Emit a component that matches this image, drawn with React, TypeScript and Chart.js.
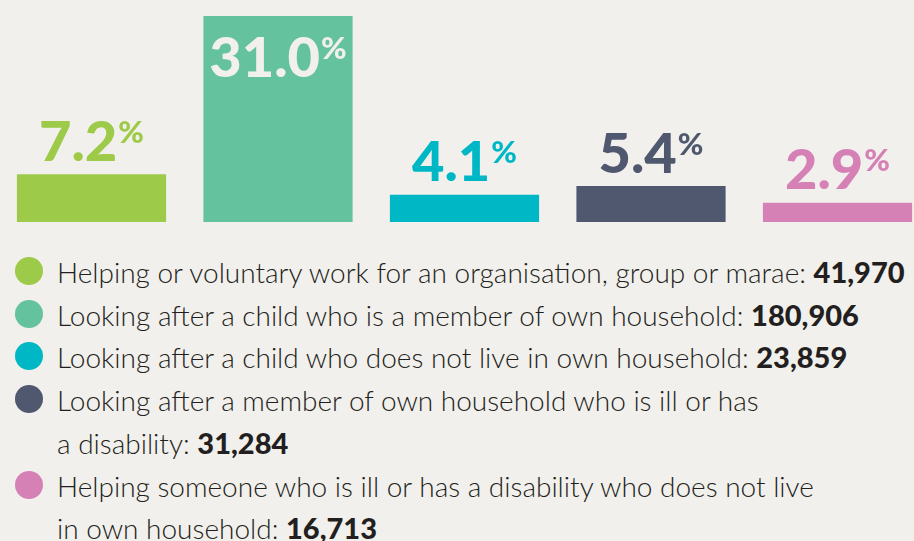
import React, { useEffect, useRef } from "react";
import { Chart, registerables } from "chart.js";

Chart.register(...registerables);

const categories = [
  "Helping or voluntary work for an organisation, group or marae",
  "Looking after a child who is a member of own household",
  "Looking after a child who does not live in own household",
  "Looking after a member of own household who is ill or has\na disability",
  "Helping someone who is ill or has a disability who does not live\nin own household",
];
const percentages = [7.2, 31.0, 4.1, 5.4, 2.9];
const counts = [41970, 180906, 23859, 31284, 16713];
const colors = ["#9dca48", "#64c29e", "#00b8c5", "#505870", "#d581b6"];
const BG = "#f2f0ec";

const labelPlugin = {
  id: "pctLabels",
  afterDatasetsDraw(chart: any) {
    const ctx = chart.ctx;
    const meta = chart.getDatasetMeta(0);
    const numFont = "900 56px Lato, 'DejaVu Sans', sans-serif";
    const pctFont = "900 31px Lato, 'DejaVu Sans', sans-serif";
    meta.data.forEach((bar: any, i: number) => {
      const num = percentages[i].toFixed(1);
      ctx.save();
      ctx.font = numFont;
      const m = ctx.measureText(num);
      const capH = m.actualBoundingBoxAscent;
      const wNum = m.width;
      ctx.font = pctFont;
      const pm = ctx.measureText("%");
      const wPct = pm.width;
      const pctH = pm.actualBoundingBoxAscent;
      const gap = 1;
      const total = wNum + gap + wPct;
      let baseline = bar.y - 13.5;
      let color = colors[i];
      if (baseline - capH < chart.chartArea.top) {
        baseline = bar.y + 61;
        color = BG;
      }
      const x0 = bar.x - total / 2;
      ctx.fillStyle = color;
      ctx.textBaseline = "alphabetic";
      ctx.textAlign = "left";
      ctx.font = numFont;
      ctx.fillText(num, x0, baseline);
      ctx.font = pctFont;
      ctx.fillText("%", x0 + wNum + gap, baseline - capH + pctH);
      ctx.restore();
    });
  },
};

function BarChart() {
  const ref = useRef<HTMLCanvasElement | null>(null);
  useEffect(() => {
    if (!ref.current) return;
    const chart = new Chart(ref.current, {
      type: "bar",
      data: {
        labels: categories.map((c) => c.replace("\n", " ")),
        datasets: [
          {
            data: percentages,
            backgroundColor: colors,
            borderWidth: 0,
            categoryPercentage: 0.8,
            barPercentage: 1,
            clip: false as any,
          },
        ],
      },
      options: {
        responsive: false,
        animation: false,
        layout: { padding: { left: 91.5, right: 76.5, top: 16, bottom: 8 } },
        scales: {
          x: { display: false, offset: false },
          y: { display: false, min: 0, max: 31 },
        },
        plugins: {
          legend: { display: false },
          tooltip: { enabled: false },
        },
      },
      plugins: [labelPlugin],
    });
    return () => chart.destroy();
  }, []);
  return (
    <canvas
      ref={ref}
      width={914}
      height={230}
      style={{ position: "absolute", left: 0, top: 0, width: 914, height: 230 }}
    />
  );
}

export default function App() {
  return (
    <div
      style={{
        position: "fixed",
        left: 0,
        top: 0,
        width: 914,
        height: 541,
        background: BG,
        overflow: "hidden",
      }}
    >
      <BarChart />
      <div
        style={{
          position: "absolute",
          left: 0,
          top: 251,
          width: 914,
          fontFamily: "Lato, 'Open Sans', sans-serif",
          fontWeight: 300,
          fontSize: 28,
          lineHeight: "42.7px",
          color: "#231f20",
        }}
      >
        {categories.map((c, i) => (
          <div key={i} style={{ position: "relative", paddingLeft: 57, whiteSpace: "pre-line" }}>
            <span
              style={{
                position: "absolute",
                left: 15,
                top: 6,
                width: 28,
                height: 28,
                borderRadius: "50%",
                background: colors[i],
              }}
            />
            {c}:{" "}
            <span style={{ fontWeight: 900, fontSize: 29 }}>
              {counts[i].toLocaleString("en-US")}
            </span>
          </div>
        ))}
      </div>
    </div>
  );
}
